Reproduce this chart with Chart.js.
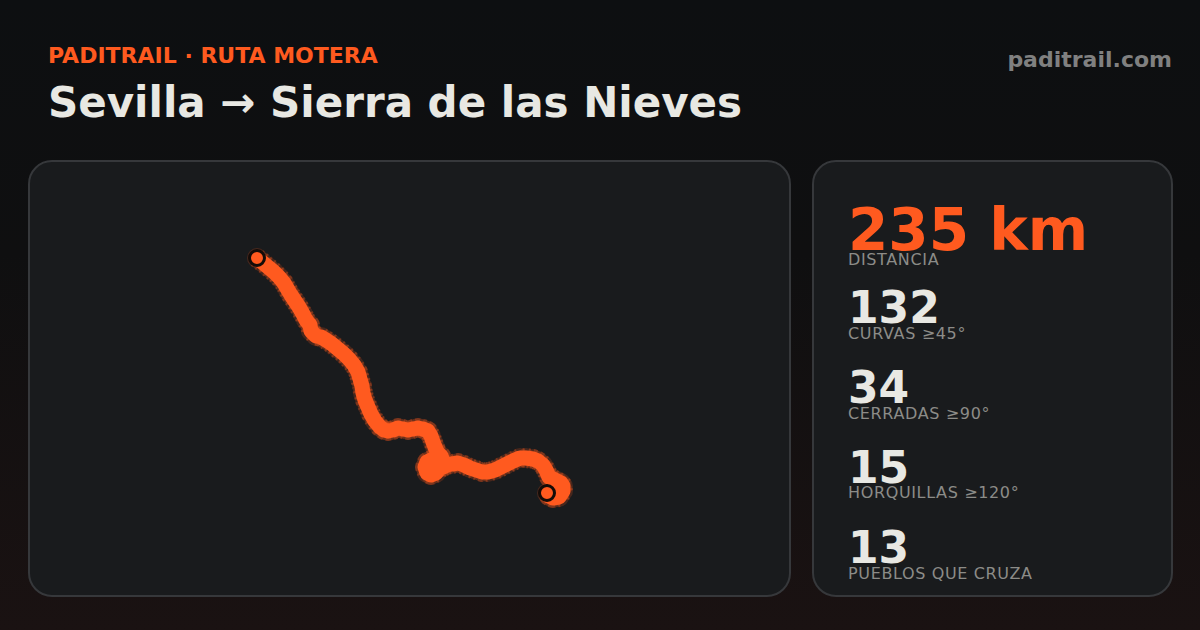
<!DOCTYPE html>
<html lang="es"><head><meta charset="utf-8">
<script src="https://cdn.jsdelivr.net/npm/chart.js@4"></script>
<style>
html,body{margin:0;padding:0}
body{width:1200px;height:630px;overflow:hidden;position:relative;background:linear-gradient(180deg,#0d0f11 0%,#0f0f10 40%,#1a1212 100%);font-family:"DejaVu Sans",sans-serif}
.t{position:absolute;white-space:nowrap;line-height:1}
.panel{position:absolute;box-sizing:border-box;background:#191b1d;border:2px solid #36383b;border-radius:24px}
canvas{position:absolute}
.b{font-weight:700}
.v{font-weight:700;font-size:44px;color:#e8e8e3;left:848px}
.l{font-size:16px;letter-spacing:.64px;color:#8c8c88;left:848px}
</style></head><body>
<div class="t b" style="left:48px;top:45px;font-size:22px;color:#ff5a1f">PADITRAIL · RUTA MOTERA</div>
<div class="t b" style="left:48px;top:82px;font-size:42px;color:#e8e8e3">Sevilla → Sierra de las Nieves</div>
<div class="t b" style="right:28px;top:49px;font-size:22px;color:#808080">paditrail.com</div>
<div class="panel" style="left:28px;top:160px;width:763px;height:437px"></div>
<div class="panel" style="left:812px;top:160px;width:361px;height:437px"></div>
<canvas id="c" style="left:29px;top:161px" width="761" height="435"></canvas>
<div class="t b" style="left:848px;top:201px;font-size:58px;color:#ff5a1f">235 km</div>
<div class="t l" style="top:252px">DISTANCIA</div>
<div class="t v" style="top:286px">132</div><div class="t l" style="top:326px">CURVAS ≥45°</div>
<div class="t v" style="top:366px">34</div><div class="t l" style="top:406px">CERRADAS ≥90°</div>
<div class="t v" style="top:446px">15</div><div class="t l" style="top:485px">HORQUILLAS ≥120°</div>
<div class="t v" style="top:526px">13</div><div class="t l" style="top:566px">PUEBLOS QUE CRUZA</div>
<script>
const routeX=[257,262,268,274,279,284,288,291,295,299,303,306,310,311,316,321,326,332,338,344,349,354,358,360,362,363,365,368,371,375,380,384,388,393,398,403,408,413,418,423,428,431,433,435,437,441,443,441,436,431,427,425,427,431,435,438,443,447,452,458,464,470,476,482,488,495,501,507,513,520,526,533,538,543,546,549,553,557,561,563,563,559,553,549,547];
const routeY=[258,262,267,272,277,283,290,295,301,307,314,320,325,331,336,337,340,344,349,354,359,365,372,379,386,393,400,407,414,421,427,430,431,430,428,429,430,429,428,429,431,436,442,447,452,456,461,467,473,475,473,467,462,460,462,465,467,465,464,463,465,468,470,472,472,470,467,464,461,458,458,459,461,465,470,477,479,481,483,486,491,497,498,496,493];
const startX=[257], startY=[258], endX=[547], endY=[493];
const ORANGE='#ff5a1f';
const route=routeX.map((x,i)=>({x,y:routeY[i]}));
Chart.defaults.animation=false;
new Chart(document.getElementById('c'),{type:'scatter',data:{datasets:[
 {data:[{x:startX[0],y:startY[0]}],order:0,pointRadius:7.5,pointBackgroundColor:ORANGE,pointBorderColor:'#140c08',pointBorderWidth:3,showLine:false},
 {data:[{x:endX[0],y:endY[0]}],order:0,pointRadius:7.5,pointBackgroundColor:ORANGE,pointBorderColor:'#140c08',pointBorderWidth:3,showLine:false},
 {data:route,order:1,showLine:true,borderColor:ORANGE,borderWidth:15,borderCapStyle:'round',borderJoinStyle:'round',tension:0,pointRadius:0},
 {data:route,order:2,showLine:true,borderColor:'rgba(255,90,31,.3)',borderWidth:20,borderDash:[2,3],borderCapStyle:'butt',borderJoinStyle:'round',tension:0,pointRadius:10,pointBorderWidth:0,pointBackgroundColor:'rgba(255,90,31,.2)'}
]},options:{responsive:false,devicePixelRatio:1,layout:{padding:0,autoPadding:false},plugins:{legend:{display:false},tooltip:{enabled:false}},
 scales:{x:{type:'linear',display:false,min:29,max:790},y:{type:'linear',display:false,reverse:true,min:161,max:596}}}});
</script></body></html>
